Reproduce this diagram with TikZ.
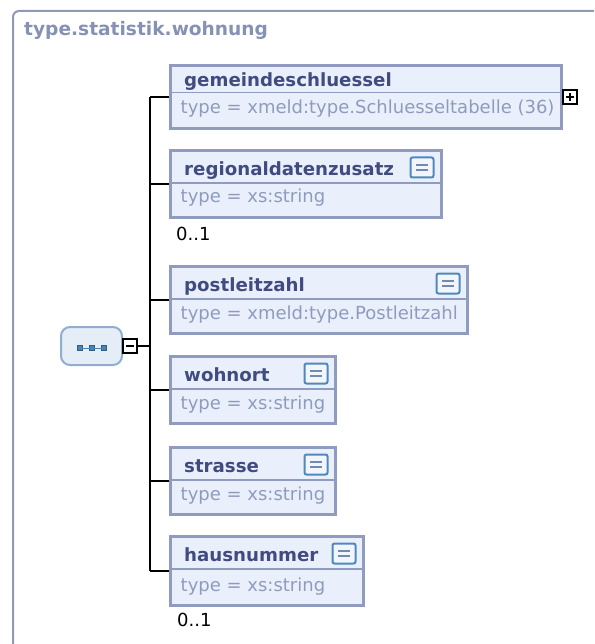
\documentclass[tikz,border=0pt]{standalone}
\usepackage{fontspec}
\setmainfont{DejaVu Sans}
\usetikzlibrary{calc,positioning}
\definecolor{xsframe}{HTML}{8E9AB6}
\definecolor{xstitle}{HTML}{8592B3}
\definecolor{xsedge}{HTML}{8F9CC0}
\definecolor{xsfill}{HTML}{EAF0FB}
\definecolor{xsname}{HTML}{404C80}
\definecolor{xstype}{HTML}{8E9BBD}
\definecolor{xsdoc}{HTML}{4F88BE}
\definecolor{xsdocin}{HTML}{F2F6FB}
\definecolor{xsbar}{HTML}{6F8AB4}
\definecolor{xsseq}{HTML}{E5EDF7}
\definecolor{xsseqedge}{HTML}{8FAED0}
\definecolor{xsdot}{HTML}{4A84B6}
\tikzset{
  xs text/.style={font=\fontsize{18}{21}\selectfont},
  xs panel/.style={draw=xsframe, line width=2pt, rounded corners=6pt},
  xs title/.style={font=\fontsize{18.6}{21}\selectfont\bfseries, text=xstitle,
    anchor=base west, inner sep=0pt},
  xs elem/.style={draw=xsedge, line width=3pt, fill=xsfill, anchor=north west,
    inner sep=0pt, outer sep=0pt, minimum height=67pt},
  xs split/.style={draw=xsedge, line width=1.5pt},
  xs name/.style={font=\fontsize{18.2}{21}\selectfont\bfseries, text=xsname,
    anchor=base west, inner sep=0pt},
  xs type/.style={text=xstype, anchor=base west, inner sep=0pt},
  xs card/.style={text=black, anchor=base west, inner sep=0pt},
  xs doc/.style={draw=xsdoc, line width=2pt, fill=xsdocin, rounded corners=2pt,
    minimum width=23pt, minimum height=20pt, inner sep=0pt,
    path picture={
      \draw[xsbar, line width=2.2pt]
        ([xshift=-6pt,yshift=2.2pt]path picture bounding box.center) -- ++(12pt,0pt)
        ([xshift=-6pt,yshift=-2.2pt]path picture bounding box.center) -- ++(12pt,0pt);
    }},
  xs seq/.style={draw=xsseqedge, line width=2pt, fill=xsseq, rounded corners=9pt,
    minimum width=61pt, minimum height=38pt, inner sep=0pt, outer sep=0pt},
  xs dot/.style={draw=xsdot!70!black, line width=0.5pt, fill=xsdot,
    minimum size=5pt, inner sep=0pt},
  xs wire/.style={draw=black, line width=1.8pt},
  xs toggle/.style={draw=black, fill=white, line width=1.3pt, minimum size=14pt,
    inner sep=0pt, outer sep=0pt},
  xs minus/.style={xs toggle, path picture={
      \draw[line width=1.4pt] ([xshift=-4pt]path picture bounding box.center)
        -- ++(8pt,0pt);}},
  xs plus/.style={xs toggle, path picture={
      \draw[line width=1.4pt] ([xshift=-4pt]path picture bounding box.center)
        -- ++(8pt,0pt) ([yshift=-4pt]path picture bounding box.center) -- ++(0pt,8pt);}}
}

\begin{document}
\begin{tikzpicture}[xs text, x=1pt, y=-1pt]
  \useasboundingbox (0,0) rectangle (594,644);
  \draw[xs panel] (594,11) -| (13,644);
  \node[xs title] (title) at (24,35.5) {type.statistik.wohnung};

  \node[xs elem, minimum width=391pt, minimum height=63pt] (gem) at (170.5,65.5) {};
  \node[xs elem, minimum width=271pt] (reg) at (170.5,150.5) {};
  \node[xs elem, minimum width=297pt] (plz) at (170.5,266.5) {};
  \node[xs elem, minimum width=165pt] (ort) at (170.5,356.5) {};
  \node[xs elem, minimum width=165pt] (str) at (170.5,447.5) {};
  \node[xs elem, minimum width=193pt, minimum height=69pt] (hnr) at (170.5,536.5) {};

  \draw[xs split] ([yshift=-27pt]gem.north west) -- ([yshift=-27pt]gem.north east);
  \foreach \e in {reg,plz,ort,str,hnr}
    \draw[xs split] ([yshift=-32.5pt]\e.north west) -- ([yshift=-32.5pt]\e.north east);

  \node[xs name] (gem-name) at ([xshift=13.5pt,yshift=-21.5pt]gem.north west) {gemeindeschluessel};
  \node[xs name] (reg-name) at ([xshift=13.5pt,yshift=-25pt]reg.north west) {regionaldatenzusatz};
  \node[xs name] (plz-name) at ([xshift=13.5pt,yshift=-25pt]plz.north west) {postleitzahl};
  \node[xs name] (ort-name) at ([xshift=13.5pt,yshift=-25pt]ort.north west) {wohnort};
  \node[xs name] (str-name) at ([xshift=13.5pt,yshift=-25pt]str.north west) {strasse};
  \node[xs name] (hnr-name) at ([xshift=13.5pt,yshift=-25pt]hnr.north west) {hausnummer};

  \node[xs type] (gem-type) at ([xshift=10pt,yshift=14.5pt]gem.south west) {type = xmeld:type.Schluesseltabelle (36)};
  \node[xs type] (reg-type) at ([xshift=10pt,yshift=14.5pt]reg.south west) {type = xs:string};
  \node[xs type] (plz-type) at ([xshift=10pt,yshift=14.5pt]plz.south west) {type = xmeld:type.Postleitzahl};
  \node[xs type] (ort-type) at ([xshift=10pt,yshift=14.5pt]ort.south west) {type = xs:string};
  \node[xs type] (str-type) at ([xshift=10pt,yshift=14.5pt]str.south west) {type = xs:string};
  \node[xs type] (hnr-type) at ([xshift=10pt,yshift=14.5pt]hnr.south west) {type = xs:string};

  \foreach \e in {reg,plz,ort,str,hnr}
    \node[xs doc] (\e-doc) at ([xshift=-19.5pt,yshift=-17pt]\e.north east) {};

  \node[xs card] (reg-card) at ([xshift=5.5pt,yshift=-23pt]reg.south west) {0..1};
  \node[xs card] (hnr-card) at ([xshift=6.5pt,yshift=-21pt]hnr.south west) {0..1};

  \node[xs plus, right=1.5pt of gem] (gem-tog) {};

  \node[xs seq] (seq) at (91.5,346) {};
  \foreach \dx in {-12,0,12}
    \node[xs dot] at ($(seq.center)+(\dx,2)$) {};
  \draw[xsdot, line width=0.9pt] ($(seq.center)+(-12,2)$) -- ($(seq.center)+(12,2)$);
  \node[xs minus, right=1pt of seq] (seq-tog) {};

  \coordinate (trunk) at (150,346);
  \draw[xs wire] (seq-tog) -- (trunk);
  \draw[xs wire] (trunk |- gem.west) -- (trunk |- hnr.west);
  \foreach \e in {gem,reg,plz,ort,str,hnr}
    \draw[xs wire] (trunk |- \e.west) -- ([xshift=-1.5pt]\e.west);
\end{tikzpicture}
\end{document}
